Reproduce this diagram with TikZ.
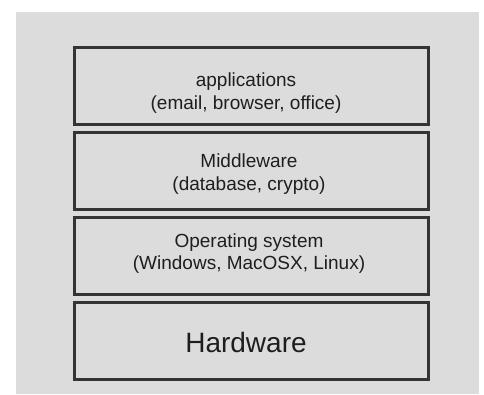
\documentclass[tikz,border=0pt]{standalone}
\usepackage{fontspec}
\setmainfont{Liberation Sans}
\definecolor{bg}{RGB}{220,220,220}
\definecolor{boxline}{RGB}{52,52,52}
\definecolor{txt}{RGB}{30,30,30}
\begin{document}
\begin{tikzpicture}[x=1pt,y=-1pt,
  layer/.style={draw=boxline, line width=3pt, fill=bg, rectangle, minimum width=354pt, minimum height=76.5pt, inner sep=0pt},
  lbl/.style={text=txt, font=\fontsize{19}{22}\selectfont, anchor=base, inner sep=0pt},
  big/.style={text=txt, font=\fontsize{28}{32}\selectfont, anchor=base, inner sep=0pt}]
\useasboundingbox (0,0) rectangle (484,394);
\fill[bg] (16,12) rectangle (479,394);
\node[layer] (app) at (251,86) {};
\node[layer] (mid) at (251,170.75) {};
\node[layer] (os) at (251,255.75) {};
\node[layer] (hw) at (251,340.75) {};
\node[lbl] (app1) at (246,86.7) {applications};
\node[lbl] (app2) at (246,109) {(email, browser, office)};
\node[lbl] (mid1) at (249,167.7) {Middleware};
\node[lbl] (mid2) at (249,190.7) {(database, crypto)};
\node[lbl] (os1) at (249,247) {Operating system};
\node[lbl] (os2) at (249,269) {(Windows, MacOSX, Linux)};
\node[big] (hw1) at (246,352) {Hardware};
\end{tikzpicture}
\end{document}
